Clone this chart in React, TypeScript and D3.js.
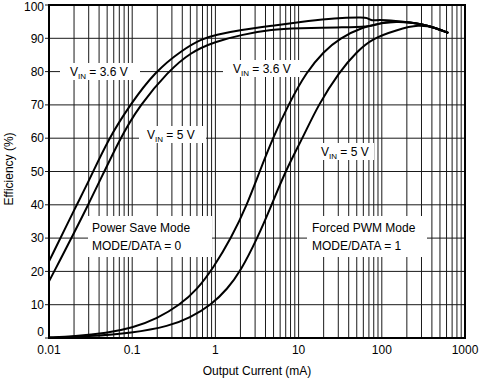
import { useEffect, useRef } from 'react';
import * as d3 from 'd3';

// Power Save Mode, VIN = 3.6 V
const psCurrent36 = [0.01, 0.0215, 0.03, 0.051, 0.094, 0.188, 0.4, 0.68, 1, 2, 5, 14, 26, 59, 66, 76, 90, 150, 218, 300, 450, 630];
const psEff36 = [23, 40, 47, 59.5, 70, 80, 86.5, 89.8, 91, 92.5, 93.8, 95.3, 96, 96.3, 96.2, 95.2, 95.6, 95.2, 94.8, 94.2, 93.1, 91.6];

// Power Save Mode, VIN = 5 V
const psCurrent5 = [0.01, 0.03, 0.071, 0.124, 0.27, 0.5, 1, 2, 4.8, 10, 30, 70, 90, 110, 150, 218, 300, 450, 630];
const psEff5 = [17, 40, 60, 70, 80, 85.8, 89, 91, 92.7, 93, 93.3, 93.4, 94.3, 94.9, 95, 94.8, 94.2, 93.1, 91.6];

// Forced PWM Mode, VIN = 3.6 V
const pwmCurrent36 = [0.01, 0.02, 0.05, 0.1, 0.2, 0.376, 0.6, 0.94, 1.55, 2.4, 3.4, 4.9, 7.5, 12.5, 20, 31, 60, 100, 150, 218, 300, 450, 630];
const pwmEff36 = [0.2, 0.5, 1.5, 3, 5.8, 10, 14.5, 21, 30, 40, 50, 60, 70, 80, 86, 90, 93.5, 94.6, 95, 94.8, 94.2, 93.1, 91.6];

// Forced PWM Mode, VIN = 5 V
const pwmCurrent5 = [0.01, 0.03, 0.1, 0.28, 0.49, 0.9, 1.4, 2, 3.2, 4.75, 6.9, 11.4, 17.2, 31, 50, 78, 150, 280, 450, 630];
const pwmEff5 = [0, 0.5, 1.5, 3.6, 6, 10, 14.8, 20, 30, 40, 50, 60.5, 70, 80, 86, 90, 92.5, 94.2, 93.1, 91.6];

const yTicks = [0, 10, 20, 30, 40, 50, 60, 70, 80, 90, 100];
const xTicks = [0.01, 0.1, 1, 10, 100, 1000];
const xTickLabels = ['0.01', '0.1', '1', '10', '100', '1000'];

const font = '"Liberation Sans", Arial, sans-serif';

export default function App() {
  const ref = useRef<SVGSVGElement | null>(null);

  useEffect(() => {
    if (!ref.current) return;
    const svg = d3.select(ref.current);
    svg.selectAll('*').remove();

    const x = d3.scaleLog().domain([0.01, 1000]).range([49, 465]);
    const y = d3.scaleLinear().domain([0, 100]).range([338, 5]);

    // grid
    const minor: number[] = [];
    for (let e = -2; e < 3; e++) {
      for (let m = 1; m < 10; m++) minor.push(m * Math.pow(10, e));
    }
    minor.push(1000);

    svg.append('g')
      .selectAll('line')
      .data(minor)
      .enter()
      .append('line')
      .attr('x1', d => x(d))
      .attr('x2', d => x(d))
      .attr('y1', y(0))
      .attr('y2', y(100))
      .attr('stroke', '#1a1a1a')
      .attr('stroke-width', 1);

    svg.append('g')
      .selectAll('line')
      .data(yTicks)
      .enter()
      .append('line')
      .attr('x1', 45)
      .attr('x2', x(1000))
      .attr('y1', d => y(d))
      .attr('y2', d => y(d))
      .attr('stroke', '#1a1a1a')
      .attr('stroke-width', 1);

    // label boxes (white backgrounds)
    const boxes = [
      { x: 60, y: 63, w: 80, h: 17 },
      { x: 139, y: 126, w: 67, h: 17 },
      { x: 223, y: 60, w: 77, h: 17 },
      { x: 312, y: 143, w: 62, h: 17 },
      { x: 88, y: 216, w: 124, h: 41 },
      { x: 307, y: 216, w: 120, h: 41 },
    ];
    svg.append('g')
      .selectAll('rect')
      .data(boxes)
      .enter()
      .append('rect')
      .attr('x', d => d.x)
      .attr('y', d => d.y)
      .attr('width', d => d.w)
      .attr('height', d => d.h)
      .attr('fill', '#fff');

    // curves
    const line = d3.line<[number, number]>()
      .x(d => x(d[0]))
      .y(d => y(d[1]))
      .curve(d3.curveBasis);

    const series: [number[], number[]][] = [
      [psCurrent36, psEff36],
      [psCurrent5, psEff5],
      [pwmCurrent36, pwmEff36],
      [pwmCurrent5, pwmEff5],
    ];
    series.forEach(([cx, cy]) => {
      const pts = cx.map((c, i) => [c, cy[i]] as [number, number]);
      svg.append('path')
        .attr('d', line(pts))
        .attr('fill', 'none')
        .attr('stroke', '#000')
        .attr('stroke-width', 2)
        .attr('stroke-linejoin', 'round');
    });

    // frame
    svg.append('rect')
      .attr('x', x(0.01))
      .attr('y', y(100))
      .attr('width', x(1000) - x(0.01))
      .attr('height', y(0) - y(100))
      .attr('fill', 'none')
      .attr('stroke', '#000')
      .attr('stroke-width', 2);

    // y tick labels (end ones nudged inward like the original)
    svg.append('g')
      .selectAll('text')
      .data(yTicks)
      .enter()
      .append('text')
      .attr('x', 44)
      .attr('y', d => (d === 0 ? y(d) - 6 : d === 100 ? y(d) + 2 : y(d)))
      .attr('dy', '0.35em')
      .attr('text-anchor', 'end')
      .style('font-family', font)
      .style('font-size', '12px')
      .style('fill', '#000')
      .text(d => String(d));

    // x tick labels
    svg.append('g')
      .selectAll('text')
      .data(xTicks)
      .enter()
      .append('text')
      .attr('x', d => x(d))
      .attr('y', 354)
      .attr('text-anchor', 'middle')
      .style('font-family', font)
      .style('font-size', '12px')
      .style('fill', '#000')
      .text((d, i) => xTickLabels[i]);

    // axis titles
    svg.append('text')
      .attr('x', 257)
      .attr('y', 375)
      .attr('text-anchor', 'middle')
      .style('font-family', font)
      .style('font-size', '12px')
      .text('Output Current (mA)');

    svg.append('text')
      .attr('transform', 'translate(13,169) rotate(-90)')
      .attr('text-anchor', 'middle')
      .style('font-family', font)
      .style('font-size', '12px')
      .text('Efficiency (%)');

    // VIN labels
    const vinLabels = [
      { x: 70, y: 76, v: '3.6' },
      { x: 147, y: 139, v: '5' },
      { x: 233, y: 73, v: '3.6' },
      { x: 321, y: 156, v: '5' },
    ];
    vinLabels.forEach(l => {
      const t = svg.append('text')
        .attr('x', l.x)
        .attr('y', l.y)
        .style('font-family', font)
        .style('font-size', '12px')
        .style('fill', '#000');
      t.append('tspan').text('V');
      t.append('tspan').attr('dy', 3).style('font-size', '8px').text('IN');
      t.append('tspan').attr('dy', -3).text(` = ${l.v} V`);
    });

    // mode labels
    const modeLabels = [
      { x: 92, lines: ['Power Save Mode', 'MODE/DATA = 0'] },
      { x: 312, lines: ['Forced PWM Mode', 'MODE/DATA = 1'] },
    ];
    modeLabels.forEach(m => {
      m.lines.forEach((s, i) => {
        svg.append('text')
          .attr('x', m.x)
          .attr('y', 232 + i * 18)
          .style('font-family', font)
          .style('font-size', '12px')
          .text(s);
      });
    });
  }, []);

  return (
    <svg
      ref={ref}
      width={484}
      height={388}
      style={{ position: 'absolute', left: 0, top: 0, background: '#fff' }}
    />
  );
}
